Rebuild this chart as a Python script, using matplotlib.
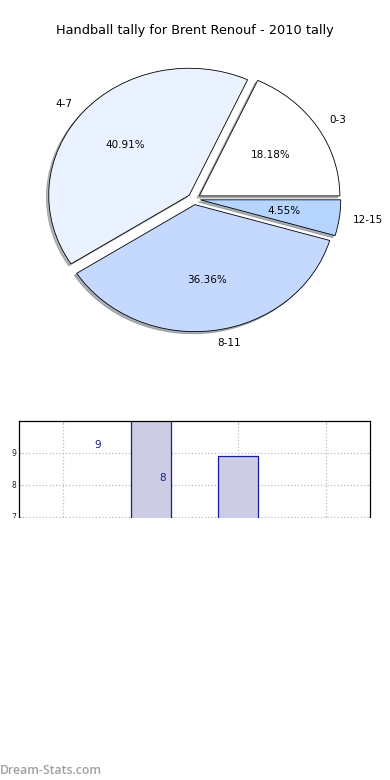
import matplotlib
matplotlib.use("Agg")
import matplotlib.pyplot as plt
from matplotlib.patches import Rectangle

# ---- data ----
title = "Handball tally for Brent Renouf - 2010 tally"
pie_labels = ["0-3", "4-7", "8-11", "12-15"]
pie_values = [4, 9, 8, 1]
pie_colors = ["#ffffff", "#ebf2ff", "#c5d9ff", "#b5d5ff"]

bar_x = [1, 2]
bar_heights = [10.6, 8.9]
bar_xticks = [0, 1, 2, 3]
bar_yticks = [7, 8, 9]
label_texts = ["9", "8"]
label_x = [0.40, 1.14]
label_y = [9.25, 8.22]

W, H = 390, 780
fig = plt.figure(figsize=(W / 100, H / 100), dpi=100)

def ax_px(l, t, r, b):
    return [l / W, 1 - b / H, (r - l) / W, (b - t) / H]

# ---- pie ----
cx, cy, rx, ry = 194, 199, 140.5, 127
axp = fig.add_axes(ax_px(cx - 2 * rx, cy - 2 * ry, cx + 2 * rx, cy + 2 * ry))
wedges, texts, autotexts = axp.pie(
    pie_values, labels=pie_labels, colors=pie_colors, explode=[0.045] * 4,
    autopct="%1.2f%%", shadow={"ox": -0.012, "oy": -0.012, "shade": 0.55},
    startangle=0, counterclock=True,
    wedgeprops=dict(edgecolor="black", linewidth=0.6),
    textprops=dict(fontsize=7.5))
axp.set_aspect("auto")
axp.set_xlim(-2, 2)
axp.set_ylim(-2, 2)
axp.axis("off")
fig.text(0.5, 1 - 30.5 / H, title, ha="center", va="center", fontsize=9.3)

# ---- bars ----
axb = fig.add_axes(ax_px(19, 421, 370, 613))
axb.bar(bar_x, bar_heights, width=0.455, color="#ccccE4", edgecolor="#1a1a9c",
        linewidth=0.9, zorder=2)
for t, x, y in zip(label_texts, label_x, label_y):
    axb.text(x, y, t, color="#1a1a8c", fontsize=7.5, ha="center", va="center", zorder=3)
axb.set_xlim(-0.5, 3.5)
axb.set_ylim(10 - 192 / 32, 10)
axb.set_xticks(bar_xticks)
axb.set_xticklabels([])
axb.set_yticks(bar_yticks)
axb.tick_params(axis="both", direction="in", length=2, width=0.5, labelsize=5.5,
                top=True, right=True, colors="#bbbbbb", labelcolor="#222222", pad=2)
axb.grid(True, linestyle=":", color="#bbbbbb", linewidth=0.9, zorder=0)
axb.set_axisbelow(True)
for s in axb.spines.values():
    s.set_linewidth(0.9)

# clip region below the bar chart
fig.patches.append(Rectangle((0, 0), 1, 1 - 518 / H, transform=fig.transFigure,
                             facecolor="white", edgecolor="none", zorder=20))

fig.text(0, 1 - 770 / H, "Dream-Stats.com", ha="left", va="center",
         fontsize=8.8, color="#a0a0a0", family="Open Sans", weight="semibold", zorder=30)

fig.savefig("out.png", dpi=100)
